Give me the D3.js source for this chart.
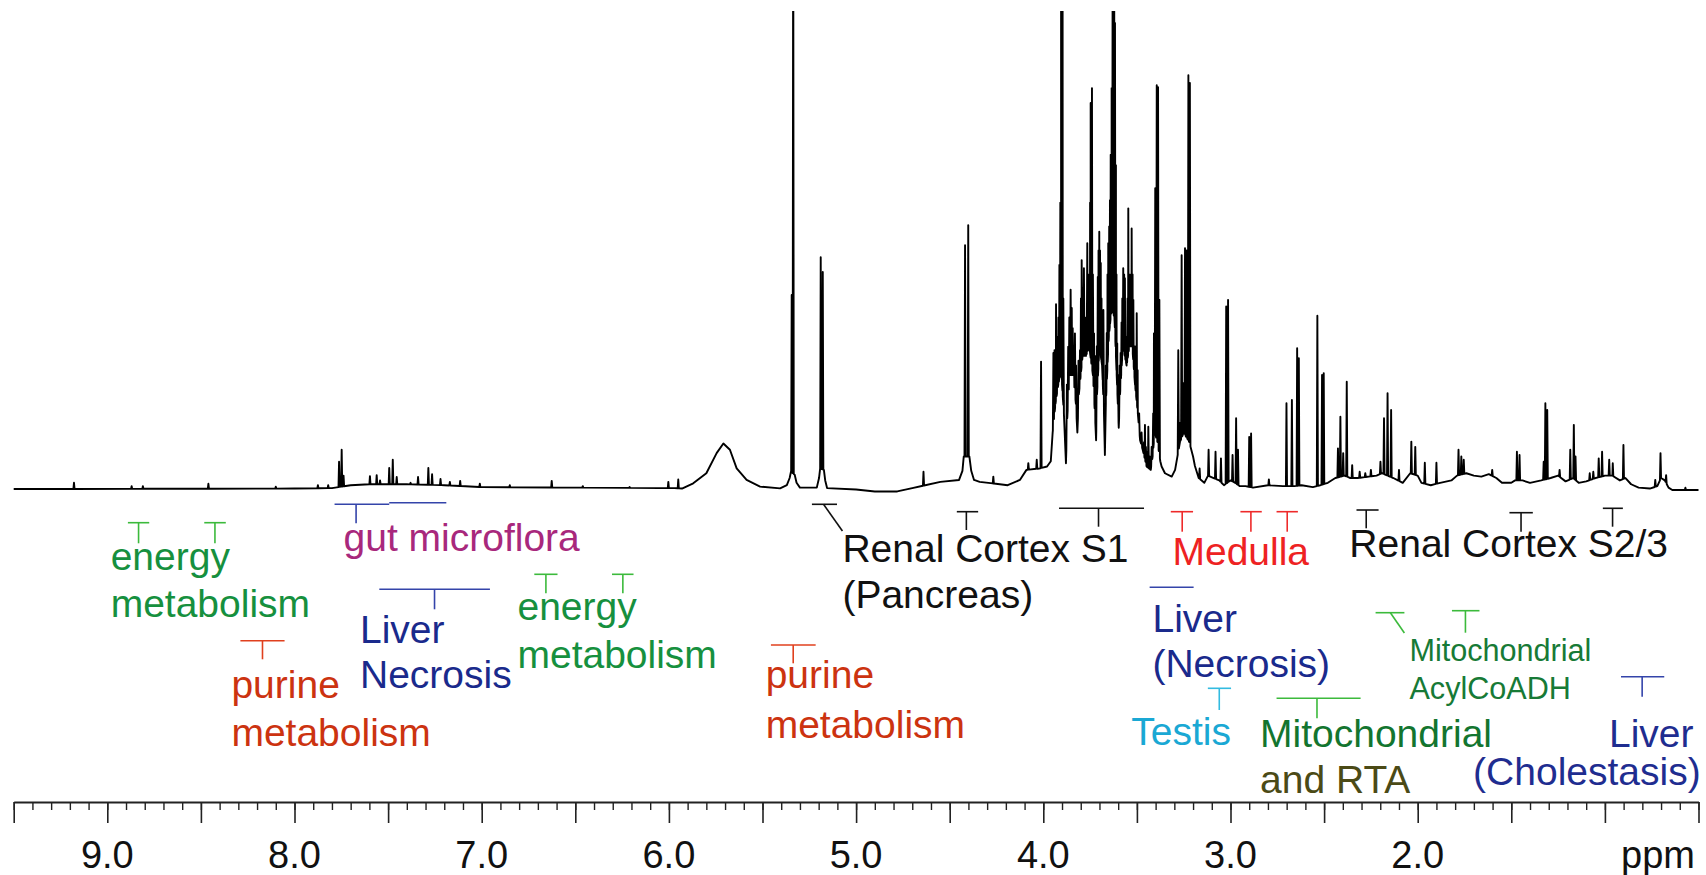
<!DOCTYPE html>
<html><head><meta charset="utf-8">
<script src="https://cdn.jsdelivr.net/npm/d3@7"></script>
<style>
html,body{margin:0;padding:0;background:#fff;}
svg{display:block;font-family:"Liberation Sans",Arial,Helvetica,sans-serif;}
</style></head>
<body><svg id="chart" width="1706" height="875"></svg>
<script>
// ---------------- DATA ----------------
const ppmRange = [9.5, 0.5];
const tickLabels = ["9.0","8.0","7.0","6.0","5.0","4.0","3.0","2.0"];
const axisUnit = "ppm";

// broad background of the spectrum: [ppm, intensity] (100 = top of plot)
const envelope = [
 [9.5,0.2],[8.0,0.3],[7.8,0.4],[7.7,1.0],[7.6,1.2],[7.4,1.2],[7.2,1.0],[7.0,0.6],[6.5,0.5],[6.05,0.4],
 [5.97,0.4],[5.93,0.3],[5.87,1.4],[5.80,3.5],[5.745,7.7],[5.709,9.7],[5.674,8.4],[5.638,4.5],[5.585,2.1],
 [5.513,0.7],[5.406,0.35],[5.37,1.0],[5.355,2.5],[5.348,3.8],[5.328,3.2],[5.318,1.5],[5.30,0.5],[5.21,0.5],
 [5.198,2.5],[5.192,4.5],[5.172,4.2],[5.165,2.0],[5.155,0.4],[5.0,0.1],[4.9,-0.3],[4.78,-0.3],[4.70,0.4],
 [4.55,1.7],[4.45,2.1],[4.432,4],[4.425,7],[4.395,7],[4.385,4],[4.37,2.1],
 [4.34,1.7],[4.19,1.0],[4.125,2.1],[4.09,4.2],[4.02,4.5],[3.98,4.9],[3.96,6],[3.95,12],[3.935,18],
 [3.92,22],[3.905,25],[3.89,16],[3.879,5.6],[3.872,15],[3.86,24],[3.84,24],[3.826,18],[3.818,12],
 [3.81,20],[3.79,28],[3.772,28],[3.755,30],[3.735,24],[3.722,14],[3.718,10.4],[3.713,20],[3.70,30],
 [3.686,26],[3.676,16],[3.671,7.3],[3.666,18],[3.65,32],[3.635,38],[3.62,36],[3.606,22],[3.597,13],
 [3.59,20],[3.575,30],[3.555,26],[3.54,30],[3.525,30],[3.51,22],[3.495,16],[3.483,10.4],[3.469,8.4],
 [3.448,4.9],[3.426,4.2],[3.416,7],[3.405,12],[3.39,10],[3.375,6],[3.368,4.9],[3.35,3.5],[3.314,2.8],
 [3.296,4.2],[3.27,10],[3.25,12],[3.22,10],[3.20,7.0],
 [3.19,5.0],[3.17,2.5],[3.14,1.5],[3.12,3.0],[3.09,2.5],[3.06,2.0],[3.035,1.0],[3.00,2.0],[2.975,1.5],
 [2.95,0.8],[2.92,0.8],[2.88,0.5],[2.80,1.0],[2.72,0.8],[2.66,0.8],[2.62,1.0],[2.56,0.6],[2.52,1.0],
 [2.48,1.5],[2.44,2.5],[2.39,3.0],[2.36,2.5],[2.32,2.5],[2.22,3.0],[2.19,3.5],[2.13,2.5],[2.08,1.5],
 [2.04,3.5],[2.00,3.0],[1.98,1.5],[1.93,1.0],[1.88,1.5],[1.82,2.0],[1.79,3.0],[1.74,3.5],[1.70,3.0],
 [1.66,2.8],[1.62,3.3],[1.58,2.5],[1.55,1.5],[1.50,1.5],[1.48,2.0],[1.44,2.0],[1.40,1.5],[1.34,2.0],
 [1.29,2.5],[1.25,3.0],[1.21,1.8],[1.17,2.5],[1.14,1.5],[1.10,1.8],[1.05,2.5],[1.00,3.0],[0.96,3.0],
 [0.92,2.0],[0.89,2.5],[0.86,1.2],[0.82,0.5],[0.76,0.3],[0.72,0.8],[0.70,2.5],[0.68,2.0],[0.66,0.5],
 [0.64,0.0],[0.5,0.0]
];

// sharp resonances: [ppm, height]
const peaksAromatic = [
 [9.178,1.5],[8.87,0.8],[8.81,0.8],[8.46,1.3],[8.10,0.7],[7.875,1.0],[7.82,1.0],[7.762,5.9],[7.748,8.4],
 [7.738,3.0],[7.597,2.9],[7.561,3.1],[7.543,2.0],[7.494,4.6],[7.475,6.3],[7.454,2.7],[7.38,1.5],[7.34,2.7],
 [7.285,4.6],[7.265,3.3],[7.22,2.3],[7.17,1.7],[7.115,1.9],[7.01,1.3],[6.85,1.0],[6.626,1.9],[6.46,0.8],
 [6.21,0.6],[6.003,1.7],[5.95,2.2]
];
const peaksAnomeric = [
 [5.344,40.7],[5.336,130],[5.189,48.6],[5.178,45.5],[4.64,3.8],[4.418,51.1],[4.401,55.3],[4.267,2.8],
 [4.08,5.6],[4.035,6.3],[4.012,26.8]
];
const peaksSugar = [
 [3.946,28.6],[3.940,29.2],[3.936,24],[3.932,38.8],[3.924,32],[3.919,36],[3.914,47],[3.909,60],[3.905,120],
 [3.901,58],[3.897,115],[3.893,40],[3.890,18.8],[3.874,22],[3.867,29.9],[3.861,36],[3.854,41.8],
 [3.848,38],[3.843,33.8],[3.837,30],[3.831,32.7],[3.825,26],[3.812,27],[3.804,29.2],[3.799,40],
 [3.795,48],[3.789,42],[3.783,46.3],[3.777,36],[3.772,32],[3.765,51.5],[3.760,45],[3.754,39.7],
 [3.750,60],[3.747,80.8],[3.740,83.9],[3.735,45],[3.729,32.7],[3.724,28],[3.714,30],[3.709,44.5],
 [3.705,50],[3.701,53.9],[3.697,50],[3.693,47.4],[3.689,40],[3.686,30],[3.683,32],[3.679,37.6],
 [3.666,26],[3.661,32.8],[3.657,45],[3.653,51.5],[3.648,55],[3.644,60.5],[3.640,70],[3.635,83.9],
 [3.630,100],[3.626,130],[3.621,100],[3.617,97.5],[3.612,67.8],[3.609,45],[3.605,30.6],[3.601,24],
 [3.592,26],[3.587,28.6],[3.582,35],[3.578,40],[3.573,46.3],[3.568,45],[3.564,44.2],[3.559,32],
 [3.555,30],[3.550,40],[3.546,58.8],[3.541,45],[3.537,36],[3.532,45],[3.528,54.6],[3.523,45],
 [3.519,39.7],[3.514,30],[3.510,26],[3.505,30],[3.501,36.9],[3.496,25],[3.488,16],[3.475,12],
 [3.462,10],[3.457,13.6],[3.452,9],[3.444,8],[3.439,13.2],[3.432,7],[3.421,9],[3.413,16],[3.409,32.7],
 [3.402,63],[3.394,84.5],[3.387,84.1],[3.380,39.7],[3.279,29.2],[3.270,14],[3.261,49],[3.252,22.3],
 [3.243,50.5],[3.234,50],[3.225,86.6],[3.217,85]
];
const peaksAliphatic = [
 [3.165,4.5],[3.117,8.4],[3.08,8.0],[3.051,6.6],[3.023,38.3],[3.013,39.7],[2.989,7.3],[2.970,15.0],
 [2.960,8.4],[2.900,11.1],[2.890,11.8],[2.795,2.2],[2.701,18.1],[2.672,18.8],[2.644,29.6],[2.635,27.5],
 [2.536,36.4],[2.511,24],[2.502,24.4],[2.426,8.7],[2.413,15.3],[2.398,7.7],[2.379,22.6],[2.350,5.2],
 [2.31,3.8],[2.28,3.5],[2.25,4.2],[2.199,5.9],[2.180,15],[2.161,20.2],[2.142,16.7],[2.10,4.2],
 [2.034,10.1],[2.013,9.0],[1.962,5.7],[1.900,5.7],[1.782,8.4],[1.767,7.0],[1.754,6.3],[1.602,4.2],
 [1.470,8.0],[1.456,7.3],[1.327,5.9],[1.318,18.1],[1.308,16.7],[1.242,4.2],[1.185,8.4],[1.166,13.6],
 [1.157,7.0],[1.081,3.5],[1.062,3.8],[1.033,6.6],[1.015,8.0],[0.977,6.3],[0.958,5.6],[0.901,9.4],
 [0.731,2.1],[0.703,7.7],[0.673,3.1],[0.57,0.5]
];

// annotation brackets (ppm positions of the assigned regions)
const bracketMarks = [
 {from:8.890,to:8.776,stem:8.833,y:522.7,end:543.3,c:"#3cba3c"},
 {from:8.482,to:8.367,stem:8.425,y:522.7,end:543.3,c:"#3cba3c"},
 {from:7.786,to:7.494,stem:7.671,y:504.3,end:523.3,c:"#3444aa"},
 {from:7.494,to:7.189,y:502.7,c:"#3444aa"},
 {from:6.719,to:6.595,stem:6.657,y:574.3,end:593.3,c:"#3cba3c"},
 {from:6.304,to:6.189,stem:6.246,y:574.3,end:593.3,c:"#3cba3c"},
 {from:7.547,to:6.956,stem:7.252,y:589.3,end:609.3,c:"#3444aa"},
 {from:8.289,to:8.053,stem:8.171,y:640.7,end:659.3,c:"#e0401e"},
 {from:5.455,to:5.216,stem:5.336,y:645,end:663.3,c:"#e0401e"},
 {from:5.236,to:5.102,slant:[5.174,5.073],y:504.3,end:531,c:"#111"},
 {from:4.462,to:4.348,stem:4.411,y:511.7,end:530,c:"#111"},
 {from:3.916,to:3.462,stem:3.705,y:508.3,end:526.7,c:"#111"},
 {from:3.319,to:3.200,stem:3.258,y:511.7,end:531.7,c:"#ee2a2a"},
 {from:2.947,to:2.833,stem:2.891,y:511.7,end:531.7,c:"#ee2a2a"},
 {from:2.754,to:2.640,stem:2.697,y:511.7,end:531.7,c:"#ee2a2a"},
 {from:2.327,to:2.209,stem:2.275,y:510,end:528.3,c:"#111"},
 {from:1.510,to:1.385,stem:1.448,y:512.7,end:531.7,c:"#111"},
 {from:1.011,to:0.904,stem:0.959,y:508.3,end:526.7,c:"#111"},
 {from:3.432,to:3.197,y:587.3,c:"#3444aa"},
 {from:3.121,to:2.997,stem:3.060,y:688.3,end:710,c:"#33bbe0"},
 {from:2.754,to:2.305,stem:2.538,y:698.3,end:718.3,c:"#3cba3c"},
 {from:2.225,to:2.071,slant:[2.146,2.071],y:612.7,end:633,c:"#3cba3c"},
 {from:1.817,to:1.670,stem:1.745,y:610.7,end:632.7,c:"#3cba3c"},
 {from:0.914,to:0.683,stem:0.801,y:676.7,end:696.7,c:"#3444aa"}
];

// annotation labels: text lines, anchor ppm, baselines
const labelTexts = [
 {ppm:8.982,lines:[["energy",570],["metabolism",617]],c:["#16903e","#16903e"],fs:39},
 {ppm:7.738,lines:[["gut microflora",551]],c:["#a8287c"],fs:39},
 {ppm:6.809,lines:[["energy",620],["metabolism",668]],c:["#16903e","#16903e"],fs:39},
 {ppm:7.650,lines:[["Liver",643],["Necrosis",688]],c:["#1a2a8c","#1a2a8c"],fs:39},
 {ppm:8.337,lines:[["purine",698],["metabolism",746]],c:["#cc3310","#cc3310"],fs:39},
 {ppm:5.483,lines:[["purine",688],["metabolism",738]],c:["#cc3310","#cc3310"],fs:39},
 {ppm:5.073,lines:[["Renal Cortex S1",562],["(Pancreas)",608]],c:["#111","#111"],fs:39},
 {ppm:3.310,lines:[["Medulla",565]],c:["#ee2222"],fs:39},
 {ppm:2.365,lines:[["Renal Cortex S2/3",557]],c:["#111"],fs:39},
 {ppm:3.417,lines:[["Liver",632],["(Necrosis)",677]],c:["#1a2a8c","#1a2a8c"],fs:39},
 {ppm:3.530,lines:[["Testis",745]],c:["#1aa8d4"],fs:39},
 {ppm:2.842,lines:[["Mitochondrial",747],["and RTA",793]],c:["#13752f","#4b4a16"],fs:39},
 {ppm:2.044,lines:[["Mitochondrial",661],["AcylCoADH",699]],c:["#177a36","#177a36"],fs:30.6},
 {ppm:0.978,lines:[["Liver",747]],c:["#1f2d90"],fs:39},
 {ppm:1.704,lines:[["(Cholestasis)",785]],c:["#1f2d90"],fs:39}
];

// ---------------- DRAWING ----------------
const svg = d3.select("#chart");
const x = d3.scaleLinear().domain(ppmRange).range([13.7, 1698.5]);
const y = d3.scaleLinear().domain([0, 100]).range([490, 11]);

svg.append("defs").append("clipPath").attr("id","plotclip")
  .append("rect").attr("x",0).attr("y",11).attr("width",1706).attr("height",790);

const envSorted = envelope.slice().sort((a,b)=>a[0]-b[0]);
const env = d3.scaleLinear().domain(envSorted.map(d=>d[0])).range(envSorted.map(d=>d[1])).clamp(true);
const hw = 0.0030;
const pts = envelope.map(d=>[d[0], d[1]]);
[...peaksAromatic, ...peaksAnomeric, ...peaksSugar, ...peaksAliphatic].forEach(([p,h])=>{
  pts.push([p+hw, env(p+hw)], [p,h], [p-hw, env(p-hw)]);
});
pts.sort((a,b)=>b[0]-a[0]);

svg.append("path")
  .attr("clip-path","url(#plotclip)")
  .attr("d", d3.line().x(d=>x(d[0])).y(d=>y(d[1]))(pts))
  .attr("fill","none").attr("stroke","#000").attr("stroke-width",1.9)
  .attr("stroke-linejoin","round");

// axis
const axisY = 802;
const minorTicks = d3.range(95, 4, -1).map(v=>v/10);
const majorTicks = minorTicks.filter(v=>Math.abs(v*2-Math.round(v*2))<1e-6);
svg.append("g").attr("transform",`translate(0,${axisY})`)
  .call(d3.axisBottom(x).tickValues(minorTicks).tickSize(8).tickFormat("").tickSizeOuter(0))
  .call(g=>g.select(".domain").attr("stroke","#222").attr("stroke-width",2))
  .call(g=>g.selectAll(".tick line").attr("stroke","#222").attr("stroke-width",1.4));
svg.append("g").attr("transform",`translate(0,${axisY})`)
  .call(d3.axisBottom(x).tickValues(majorTicks).tickSize(21).tickFormat("").tickSizeOuter(0))
  .call(g=>g.select(".domain").remove())
  .call(g=>g.selectAll(".tick line").attr("stroke","#222").attr("stroke-width",1.6));

svg.append("g").selectAll("text").data(tickLabels).join("text")
  .attr("x", d=>x(+d)).attr("y", 868)
  .attr("text-anchor","middle").attr("font-size",38).attr("fill","#111").text(d=>d);
svg.append("text").attr("x", 1695).attr("y", 868).attr("text-anchor","end")
  .attr("font-size",38).attr("fill","#111").text(axisUnit);

// brackets
const gb = svg.append("g").attr("fill","none").attr("stroke-width",1.6);
bracketMarks.forEach(b=>{
  gb.append("line").attr("x1",x(b.from)).attr("x2",x(b.to)).attr("y1",b.y).attr("y2",b.y).attr("stroke",b.c);
  if (b.stem !== undefined)
    gb.append("line").attr("x1",x(b.stem)).attr("x2",x(b.stem)).attr("y1",b.y).attr("y2",b.end).attr("stroke",b.c);
  if (b.slant)
    gb.append("line").attr("x1",x(b.slant[0])).attr("x2",x(b.slant[1])).attr("y1",b.y).attr("y2",b.end).attr("stroke",b.c);
});

// labels
const gl = svg.append("g");
labelTexts.forEach(l=>{
  l.lines.forEach(([t,by],i)=>{
    gl.append("text").attr("x",x(l.ppm)).attr("y",by).attr("font-size",l.fs)
      .attr("fill",l.c[i]).text(t);
  });
});
</script>
</body></html>
